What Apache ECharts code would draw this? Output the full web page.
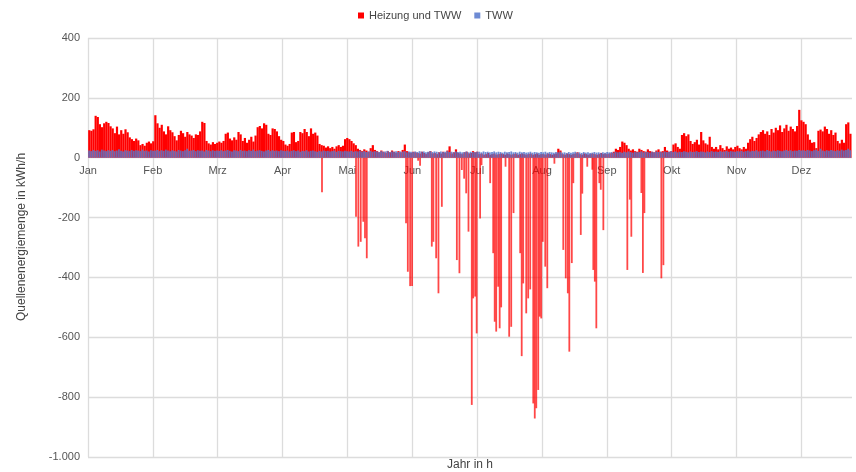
<!DOCTYPE html>
<html>
<head>
<meta charset="utf-8">
<script src="https://cdn.jsdelivr.net/npm/echarts@6/dist/echarts.min.js"></script>
<style>
  html, body { margin: 0; padding: 0; background: #fff; }
  #chart { width: 856px; height: 472px; }
</style>
</head>
<body>
<div id="chart"></div>
<script>
// Monatsbeschriftung der x-Achse (alle 730 h)
const monate = ['Jan', 'Feb', 'Mrz', 'Apr', 'Mai', 'Jun', 'Jul', 'Aug', 'Sep', 'Okt', 'Nov', 'Dez'];
const stundenProMonat = 730;
const xMax = 8600;

// Heizung und TWW, Tageswerte (Spitzen je Tag) in kWh/h
const heizungTag = [
  // Jan
  92, 90, 95, 140, 136, 112, 102, 115, 120, 116, 105, 98, 82, 104, 78, 92, 80, 95, 85, 68, 62, 56, 64, 58, 42, 46, 40, 50, 54, 48, 55,
  // Feb
  142, 115, 100, 110, 88, 78, 105, 92, 85, 72, 58, 76, 90, 82, 70, 86, 78, 74, 66, 78, 76, 88, 120, 116, 56, 48, 44, 52, 46, 50,
  // Mrz
  54, 50, 56, 80, 84, 64, 58, 68, 60, 86, 78, 56, 66, 50, 60, 70, 54, 74, 102, 106, 98, 115, 110, 80, 76, 98, 96, 88, 72, 60, 56,
  // Apr
  44, 40, 46, 84, 86, 52, 56, 86, 82, 96, 86, 72, 98, 80, 84, 74, 46, 42, 40, 34, 38, 32, 36, 30, 38, 42, 36, 40, 62, 66,
  // Mai
  62, 56, 48, 42, 30, 26, 22, 28, 24, 20, 32, 42, 26, 22, 18, 24, 20, 16, 22, 18, 24, 20, 16, 22, 18, 26, 44, 22, 18, 16, 20,
  // Jun
  18, 16, 14, 20, 16, 12, 18, 22, 14, 16, 12, 18, 14, 20, 16, 24, 38, 14, 18, 28, 16, 14, 12, 18, 20, 14, 16, 22, 18, 20,
  // Jul
  12, 14, 10, 12, 16, 10, 12, 14, 10, 12, 14, 12, 10, 14, 12, 10, 12, 14, 10, 12, 14, 12, 10, 12, 14, 10, 12, 14, 10, 12,
  // Aug
  12, 10, 14, 12, 10, 12, 14, 30, 24, 12, 10, 14, 12, 10, 12, 14, 18, 12, 10, 14, 12, 10, 12, 14, 12, 10, 12, 16, 12, 14, 12,
  // Sep
  14, 16, 20, 30, 26, 36, 54, 50, 42, 30, 24, 28, 22, 20, 30, 26, 22, 20, 28, 22, 20, 18, 24, 28, 20, 22, 36, 24, 20, 22,
  // Okt
  44, 48, 36, 30, 76, 82, 72, 78, 56, 46, 52, 60, 44, 86, 58, 48, 44, 70, 36, 30, 36, 28, 42, 32, 26, 38, 30, 34, 28, 36, 40,
  // Nov
  32, 28, 36, 30, 50, 62, 70, 56, 66, 78, 86, 92, 80, 88, 76, 96, 84, 100, 92, 108, 86, 98, 110, 90, 104, 96, 88, 106, 160, 125,
  // Dez
  120, 112, 78, 60, 50, 52, 32, 90, 94, 88, 104, 96, 80, 92, 76, 84, 56, 48, 60, 50, 112, 118, 80
];

// Einzelne negative Stundenwerte (Stunde, kWh/h)
const heizungSpitzen = [
  [2634, -115],
  [3017, -197], [3043, -297], [3070, -281], [3099, -214], [3118, -269], [3138, -336],
  [3580, -219], [3600, -381], [3626, -429], [3648, -429], [3716, -10], [3738, -27],
  [3870, -297], [3888, -281], [3919, -336], [3945, -453], [3983, -164],
  [4152, -342], [4181, -386], [4208, -41], [4234, -70], [4257, -119], [4283, -247],
  [4320, -826], [4336, -470], [4358, -464], [4375, -587], [4414, -203], [4430, -25],
  [4527, -85], [4561, -319], [4578, -548], [4595, -581], [4617, -431], [4634, -570], [4651, -500],
  [4700, -30], [4741, -598], [4764, -565], [4790, -185],
  [4865, -319], [4882, -663], [4899, -420], [4933, -520], [4955, -470], [4978, -440],
  [5012, -821], [5029, -871], [5046, -837], [5068, -776], [5085, -531], [5102, -537],
  [5119, -281], [5147, -364], [5170, -436], [5250, -20],
  [5350, -308], [5378, -403], [5401, -453], [5418, -648], [5446, -352], [5463, -85],
  [5547, -258], [5564, -120], [5620, -30],
  [5677, -40], [5688, -375], [5705, -414], [5722, -570], [5756, -85], [5772, -107], [5801, -242],
  [6071, -375], [6099, -140], [6116, -264],
  [6229, -118], [6246, -385], [6263, -185],
  [6454, -403], [6477, -359]
];

// TWW, Tageswerte in kWh/h
const twwTag = [
  // Jan
  24, 22, 26, 23, 25, 21, 27, 24, 22, 25, 23, 26, 22, 24, 28, 23, 21, 25, 24, 22, 26, 23, 25, 24, 22, 27, 23, 24, 21, 25, 23,
  // Feb
  24, 26, 22, 25, 23, 27, 24, 22, 25, 23, 21, 26, 24, 22, 25, 30, 23, 24, 26, 22, 25, 23, 24, 21, 26, 24, 22, 25, 23, 24,
  // Mrz
  23, 25, 22, 24, 26, 23, 21, 25, 24, 22, 26, 23, 24, 22, 25, 23, 27, 22, 24, 25, 23, 21, 24, 26, 22, 25, 23, 24, 22, 25, 23,
  // Apr
  22, 24, 21, 23, 25, 22, 24, 20, 23, 22, 25, 21, 23, 24, 22, 20, 23, 21, 24, 22, 23, 21, 22, 24, 20, 23, 22, 21, 23, 22,
  // Mai
  21, 23, 20, 22, 21, 24, 20, 22, 19, 21, 23, 20, 22, 21, 19, 22, 20, 21, 23, 19, 21, 20, 22, 19, 21, 20, 22, 18, 21, 20, 19,
  // Jun
  21, 19, 22, 20, 21, 18, 20, 22, 19, 21, 20, 18, 21, 19, 20, 22, 19, 20, 18, 21, 19, 20, 18, 19, 21, 18, 20, 19, 18, 20,
  // Jul
  20, 18, 21, 19, 20, 18, 19, 21, 18, 20, 19, 17, 20, 18, 19, 21, 18, 19, 17, 20, 18, 19, 17, 18, 20, 17, 19, 18, 17, 19,
  // Aug
  18, 20, 17, 19, 18, 17, 19, 18, 20, 17, 18, 16, 19, 17, 18, 20, 17, 18, 16, 19, 17, 18, 16, 17, 19, 17, 18, 16, 18, 17, 19,
  // Sep
  18, 19, 17, 20, 18, 19, 17, 20, 18, 21, 19, 17, 20, 18, 19, 21, 18, 20, 19, 17, 20, 18, 21, 19, 20, 18, 21, 19, 20, 22,
  // Okt
  19, 21, 18, 20, 19, 22, 20, 18, 21, 19, 20, 22, 19, 21, 20, 18, 21, 19, 22, 20, 21, 19, 22, 20, 21, 23, 20, 22, 21, 20, 22,
  // Nov
  21, 23, 20, 22, 24, 21, 23, 22, 25, 21, 23, 24, 22, 26, 23, 21, 24, 22, 25, 23, 22, 24, 26, 23, 25, 22, 24, 23, 26, 24,
  // Dez
  25, 23, 26, 24, 22, 25, 27, 23, 30, 24, 22, 25, 23, 26, 24, 22, 25, 23, 27, 24, 26, 30, 25
];

const tagZuPunkt = (v, d) => [d * 24 + 12, v];

function tausender(v) {
  const s = String(Math.abs(v));
  const t = s.length > 3 ? s.slice(0, s.length - 3) + '.' + s.slice(-3) : s;
  return (v < 0 ? '-' : '') + t;
}

const chart = echarts.init(document.getElementById('chart'));
const fontFamily = '"Liberation Sans", Arial, sans-serif';

// Monatsnamen sitzen direkt unter der Nulllinie
const gridTop = 38, gridBottom = 15, yMin = -1000, yMax = 400;
const plotHoehe = 472 - gridTop - gridBottom;
const nullVersatz = -plotHoehe * (0 - yMin) / (yMax - yMin);

chart.setOption({
  animation: false,
  textStyle: { fontFamily: fontFamily },
  legend: {
    data: ['Heizung und TWW', 'TWW'],
    left: 353,
    top: 5,
    icon: 'rect',
    itemWidth: 6,
    itemHeight: 6,
    itemGap: 13,
    textStyle: { fontSize: 11, color: '#444', fontFamily: fontFamily }
  },
  grid: { left: 88, right: 4, top: gridTop, bottom: gridBottom, containLabel: false },
  xAxis: {
    type: 'value',
    min: 0,
    max: xMax,
    interval: stundenProMonat,
    offset: nullVersatz,
    axisLine: { show: false },
    axisTick: { show: false },
    axisLabel: {
      fontSize: 11,
      color: '#555',
      margin: 8,
      showMaxLabel: false,
      formatter: v => (v % stundenProMonat === 0 ? monate[v / stundenProMonat] || '' : '')
    },
    splitLine: { show: true, showMaxLine: false, lineStyle: { color: '#dcdcdc', width: 1.3 } }
  },
  yAxis: {
    type: 'value',
    min: yMin,
    max: yMax,
    interval: 200,
    axisLine: { show: false },
    axisTick: { show: false },
    axisLabel: { fontSize: 11, color: '#555', margin: 8, formatter: tausender },
    splitLine: { lineStyle: { color: '#dcdcdc', width: 1.3 } }
  },
  graphic: [
    {
      type: 'text',
      x: 470, y: 465,
      style: { text: 'Jahr in h', fill: '#444', fontSize: 12, fontFamily: fontFamily, textAlign: 'center', textVerticalAlign: 'middle' }
    },
    {
      type: 'text',
      x: 22, y: 237,
      rotation: Math.PI / 2,
      style: { text: 'Quellenenergiemenge in kWh/h', fill: '#444', fontSize: 12, fontFamily: fontFamily, textAlign: 'center', textVerticalAlign: 'middle' }
    }
  ],
  series: [
    {
      name: 'Heizung und TWW',
      type: 'bar',
      barWidth: 2.2,
      barGap: '-100%',
      itemStyle: { color: '#ff0000' },
      data: heizungTag.map(tagZuPunkt)
    },
    {
      name: 'Heizung und TWW',
      type: 'bar',
      barWidth: 1.8,
      barGap: '-100%',
      itemStyle: { color: '#ff0000', opacity: 0.72 },
      data: heizungSpitzen
    },
    {
      name: 'TWW',
      type: 'bar',
      barWidth: 1.8,
      barGap: '-100%',
      itemStyle: { color: '#5577cc', opacity: 0.85 },
      data: twwTag.map(tagZuPunkt)
    }
  ]
});
</script>
</body>
</html>
